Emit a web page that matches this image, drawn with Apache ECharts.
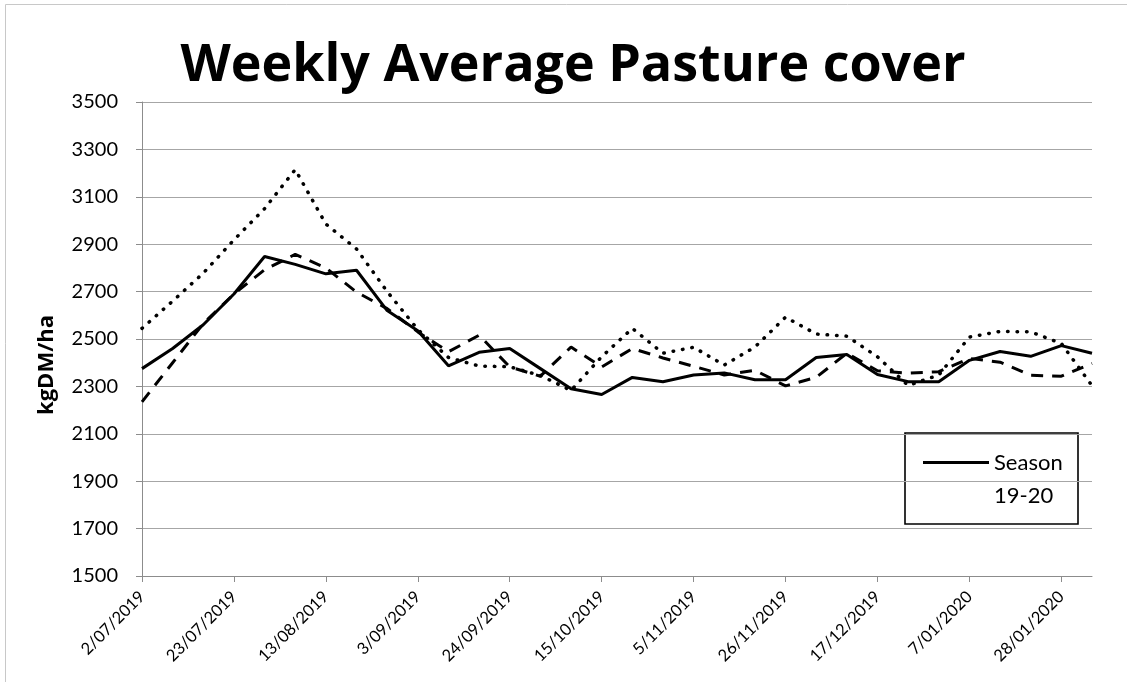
<!DOCTYPE html>
<html>
<head>
<meta charset="utf-8">
<title>Weekly Average Pasture cover</title>
<script src="https://cdn.jsdelivr.net/npm/echarts@6/dist/echarts.min.js"></script>
<style>
  html, body { margin: 0; padding: 0; background: #ffffff; }
  #chart { width: 1127px; height: 682px; }
</style>
</head>
<body>
<div id="chart"></div>
<script>
// Weekly dates (every Tuesday), labelled every third week on the axis
const weeks = [
  '2/07/2019', '9/07/2019', '16/07/2019', '23/07/2019', '30/07/2019', '6/08/2019',
  '13/08/2019', '20/08/2019', '27/08/2019', '3/09/2019', '10/09/2019', '17/09/2019',
  '24/09/2019', '1/10/2019', '8/10/2019', '15/10/2019', '22/10/2019', '29/10/2019',
  '5/11/2019', '12/11/2019', '19/11/2019', '26/11/2019', '3/12/2019', '10/12/2019',
  '17/12/2019', '24/12/2019', '31/12/2019', '7/01/2020', '14/01/2020', '21/01/2020',
  '28/01/2020', '4/02/2020'
];

// Average pasture cover, kgDM/ha
const season1920 = [
  2375, 2460, 2560, 2690, 2848, 2815, 2775, 2790, 2620, 2535, 2387, 2444,
  2460, 2375, 2290, 2266, 2338, 2320, 2348, 2357, 2328, 2328, 2422, 2435,
  2350, 2320, 2320, 2410, 2447, 2427, 2472, 2440
];
const seriesDashed = [
  2235, 2400, 2565, 2690, 2792, 2857, 2800, 2698, 2628, 2530, 2446, 2516,
  2382, 2343, 2466, 2382, 2460, 2420, 2385, 2348, 2368, 2302, 2338, 2440,
  2366, 2356, 2362, 2418, 2402, 2347, 2343, 2397
];
const seriesDotted = [
  2545, 2660, 2778, 2918, 3050, 3215, 2985, 2880, 2700, 2540, 2422, 2386,
  2383, 2346, 2283, 2425, 2545, 2440, 2465, 2390, 2466, 2592, 2521, 2512,
  2425, 2304, 2348, 2508, 2532, 2530, 2481, 2303
];

const yMin = 1500, yMax = 3500, yStep = 200;
const FONT = 'Lato, "Open Sans", sans-serif';

const chart = echarts.init(document.getElementById('chart'), null, { renderer: 'canvas' });

chart.setOption({
  backgroundColor: '#ffffff',
  animation: false,
  title: {
    text: 'Weekly Average Pasture cover',
    left: 573,
    top: 40,
    padding: 0,
    textAlign: 'center',
    textStyle: {
      fontFamily: '"Open Sans", sans-serif',
      fontWeight: 'bold',
      fontSize: 52,
      color: '#000000'
    }
  },
  graphic: [
    {
      type: 'rect',
      silent: true,
      shape: { x: 5.5, y: 4.5, width: 1140, height: 700 },
      style: { fill: 'none', stroke: '#c8c8c8', lineWidth: 1 }
    },
    {
      type: 'rect',
      silent: true,
      z: 0,
      shape: { x: 905, y: 433, width: 173, height: 91 },
      style: { fill: '#ffffff', stroke: '#000000', lineWidth: 1.6 }
    }
  ],
  legend: {
    data: [{ name: 'Season 19-20', icon: 'rect' }],
    left: 923,
    top: 413,
    padding: 0,
    z: 5,
    itemWidth: 66,
    itemHeight: 3,
    // blank first line keeps "Season" level with the line sample
    formatter: function () { return ' \nSeason\n19-20'; },
    textStyle: {
      fontFamily: FONT,
      fontSize: 22,
      color: '#000000',
      lineHeight: 33
    }
  },
  grid: {
    left: 142,
    right: 35,
    top: 102,
    bottom: 106,
    containLabel: false
  },
  xAxis: {
    type: 'category',
    data: weeks,
    boundaryGap: false,
    axisLine: { show: true, lineStyle: { color: '#8c8c8c', width: 1 } },
    axisTick: { show: true, interval: 2, length: 6, lineStyle: { color: '#8c8c8c' } },
    axisLabel: {
      interval: 2,
      rotate: 45,
      margin: 18,
      fontFamily: FONT,
      fontSize: 16.5,
      color: '#000000'
    },
    splitLine: { show: false }
  },
  yAxis: {
    type: 'value',
    min: yMin,
    max: yMax,
    interval: yStep,
    name: 'kgDM/ha',
    nameLocation: 'middle',
    nameGap: 84,
    nameTextStyle: {
      fontFamily: '"Open Sans", sans-serif',
      fontWeight: 'bold',
      fontSize: 22,
      color: '#000000',
      padding: [0, 52, 0, 0]
    },
    axisLine: { show: true, lineStyle: { color: '#8c8c8c', width: 1 } },
    axisTick: { show: true, inside: false, length: 6, lineStyle: { color: '#8c8c8c' } },
    axisLabel: {
      margin: 24,
      fontFamily: FONT,
      fontSize: 20,
      color: '#000000',
      formatter: function (v) { return String(v); }
    },
    splitLine: { show: true, lineStyle: { color: '#a6a6a6', width: 1.2 } }
  },
  series: [
    {
      name: 'Series 3',
      type: 'line',
      data: seriesDotted,
      symbol: 'none',
      lineStyle: { color: '#000000', width: 3.5, type: [0.5, 9], cap: 'round' },
      z: 2
    },
    {
      name: 'Series 2',
      type: 'line',
      data: seriesDashed,
      symbol: 'none',
      lineStyle: { color: '#000000', width: 3, type: [12, 9], cap: 'butt' },
      z: 3
    },
    {
      name: 'Season 19-20',
      type: 'line',
      data: season1920,
      symbol: 'none',
      itemStyle: { color: '#000000' },
      lineStyle: { color: '#000000', width: 3, type: 'solid' },
      z: 4
    }
  ]
});
</script>
</body>
</html>
